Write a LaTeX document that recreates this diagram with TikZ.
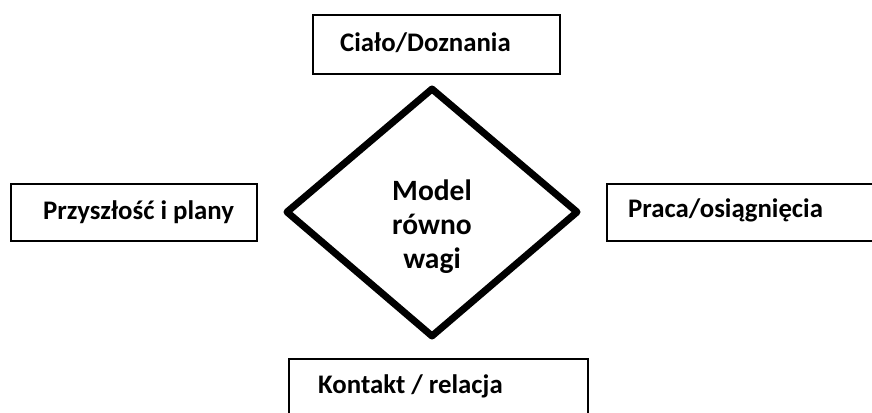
\documentclass[tikz,border=0pt]{standalone}
\usepackage{fontspec}
\setmainfont{Carlito}
\begin{document}
\begin{tikzpicture}[x=1pt,y=-1pt,
  frame/.style={draw=black,line width=2pt,fill=white,inner sep=0pt},
  label/.style={inner sep=0pt,anchor=base west,font=\fontsize{26.8}{30}\selectfont\bfseries},
  core/.style={inner sep=0pt,align=center,font=\fontsize{29.5}{34}\selectfont\bfseries}]
  \clip (0,0) rectangle (872,412);
  \fill[white] (0,0) rectangle (872,412);
  % outer boxes
  \node[frame,minimum width=247pt,minimum height=59pt] (topbox) at (436.5,44.5) {};
  \node[frame,minimum width=246pt,minimum height=57pt] (leftbox) at (134,212.5) {};
  \node[frame,minimum width=293pt,minimum height=57pt] (rightbox) at (753.5,212.5) {};
  \node[frame,minimum width=299pt,minimum height=81pt] (bottombox) at (438.5,399.5) {};
  % box labels
  \node[label] (toptext) at (340,52) {Ciało/Doznania};
  \node[label] (lefttext) at (43,219) {Przyszłość i plany};
  \node[label] (righttext) at (628,217) {Praca/osiągnięcia};
  \node[label] (bottomtext) at (318,393) {Kontakt / relacja};
  % central diamond
  \coordinate (dt) at (432,89);
  \coordinate (dl) at (287,212);
  \coordinate (dr) at (577,212);
  \coordinate (db) at (432,336);
  \draw[line width=7pt,line join=round] (dt) -- (dr) -- (db) -- (dl) -- cycle;
  \node[core] (model) at (432,227) {Model\\równo\\wagi};
\end{tikzpicture}
\end{document}
